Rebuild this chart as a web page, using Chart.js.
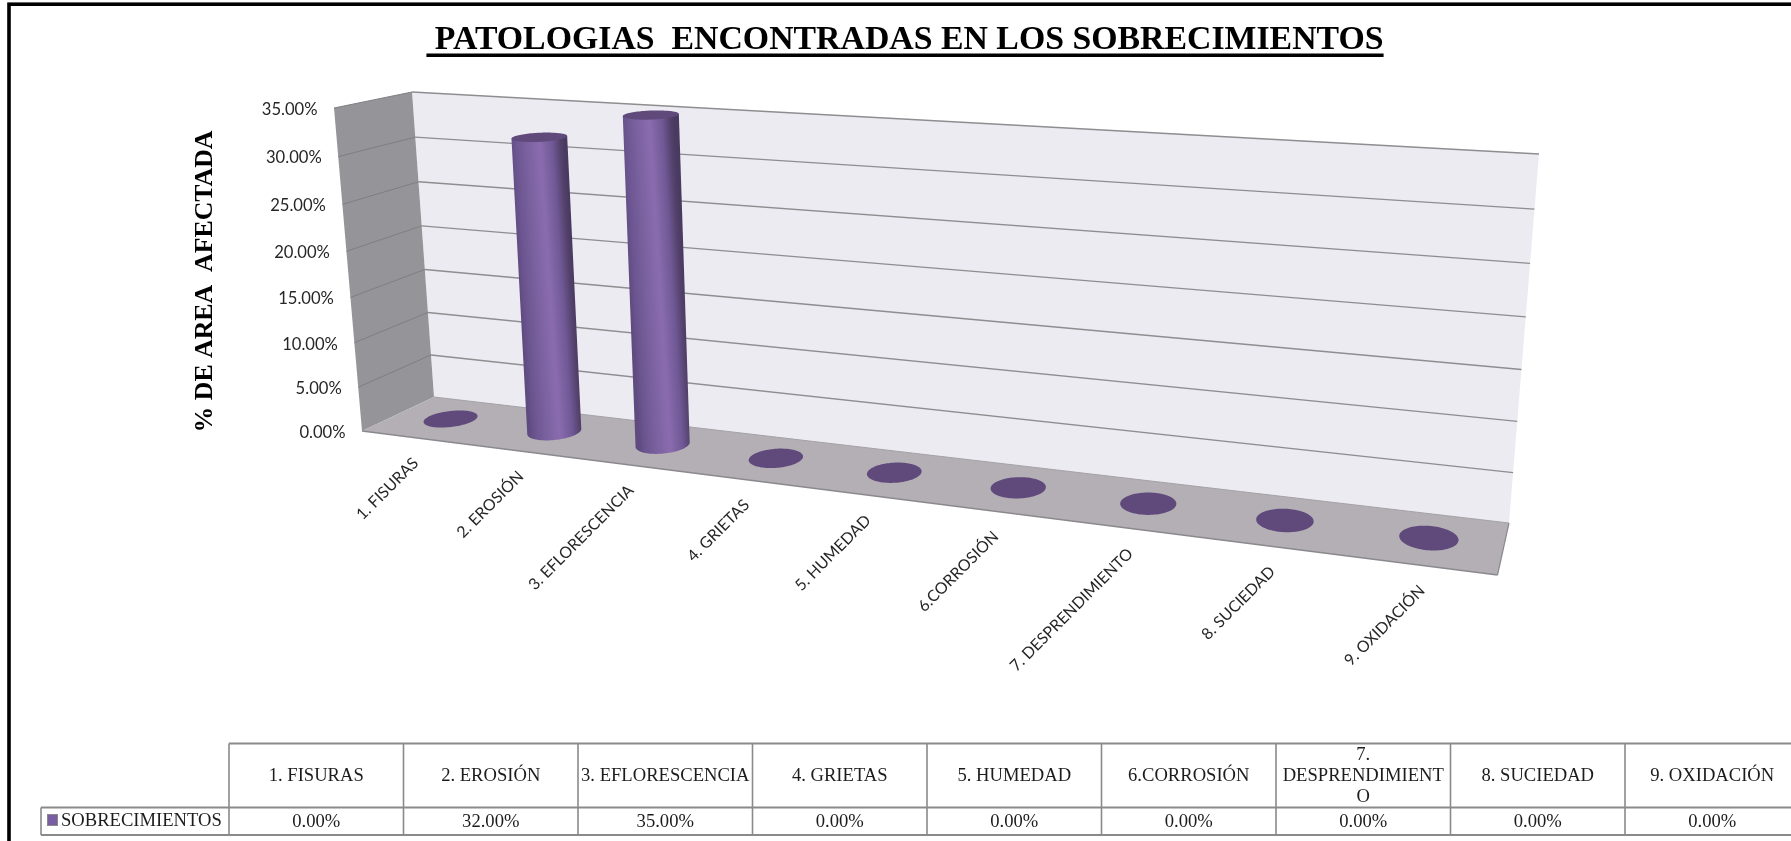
<!DOCTYPE html>
<html><head><meta charset="utf-8">
<style>html,body{margin:0;padding:0;background:#fff;overflow:hidden}canvas{display:block}</style>
<script src="https://cdn.jsdelivr.net/npm/chart.js@4/dist/chart.umd.js"></script>
</head><body><canvas id="c" width="1791" height="841"></canvas>
<script>
const categories = ["1. FISURAS","2. EROSIÓN","3. EFLORESCENCIA","4. GRIETAS","5. HUMEDAD","6.CORROSIÓN","7. DESPRENDIMIENTO","8. SUCIEDAD","9. OXIDACIÓN"];
const seriesName = "SOBRECIMIENTOS";
const seriesValues = [0,32,35,0,0,0,0,0,0];
const chartTitle = " PATOLOGIAS  ENCONTRADAS EN LOS SOBRECIMIENTOS";
const yTitle = "% DE AREA  AFECTADA";
const tableHeaderLines = [["1. FISURAS"],["2. EROSIÓN"],["3. EFLORESCENCIA"],["4. GRIETAS"],["5. HUMEDAD"],["6.CORROSIÓN"],["7.","DESPRENDIMIENT","O"],["8. SUCIEDAD"],["9. OXIDACIÓN"]];
const yMax = 35, yStep = 5;

// Frame of the projected 3D box (unit square -> quadrilateral)
const BL=[434,397],BR=[1509,523],TR=[1539,154],TL=[412,92],FL=[362,431],FR=[1497.5,575],FT=[334,108];
function homography(p0,p1,p2,p3){
  const [x0,y0]=p0,[x1,y1]=p1,[x2,y2]=p2,[x3,y3]=p3;
  const dx1=x1-x2,dx2=x3-x2,sx=x0-x1+x2-x3,dy1=y1-y2,dy2=y3-y2,sy=y0-y1+y2-y3;
  const den=dx1*dy2-dx2*dy1,g=(sx*dy2-dx2*sy)/den,h=(dx1*sy-sx*dy1)/den;
  const a=x1-x0+g*x1,b=x3-x0+h*x3,d=y1-y0+g*y1,e=y3-y0+h*y3;
  return (u,v)=>{const k=g*u+h*v+1;return [(a*u+b*v+x0)/k,(d*u+e*v+y0)/k];};
}
const Hb=homography(BL,BR,TR,TL), Hf=homography(BL,BR,FR,FL), Hl=homography(BL,FL,FT,TL);
const frontScale=(FL[1]-FT[1])/(BL[1]-TL[1]);
function P(u,v,w){const f=Hf(u,w),a=Hb(u,0),b=Hb(u,v),s=1+(frontScale-1)*w;return [f[0]+(b[0]-a[0])*s+3*Math.sin(Math.PI*u),f[1]+(b[1]-a[1])*s];}
function poly(ctx,pts,fill,stroke,lw){ctx.beginPath();pts.forEach((p,i)=>i?ctx.lineTo(p[0],p[1]):ctx.moveTo(p[0],p[1]));ctx.closePath();
  if(fill){ctx.fillStyle=fill;ctx.fill();} if(stroke){ctx.strokeStyle=stroke;ctx.lineWidth=lw||1;ctx.stroke();}}
function line(ctx,a,b,c,lw){ctx.beginPath();ctx.moveTo(a[0],a[1]);ctx.lineTo(b[0],b[1]);ctx.strokeStyle=c;ctx.lineWidth=lw;ctx.stroke();}

const WALL_DEPTH=0.48, R_W=0.235;
function drawCylinder(ctx,u,v,rU0){
  const N=96,bot=[],top=[],rU=rU0*(.885-.06*u);
  for(let i=0;i<N;i++){const t=i/N*2*Math.PI,uu=u+rU*Math.cos(t),ww=WALL_DEPTH+R_W*Math.sin(t);bot.push(P(uu,0,ww));top.push(P(uu,v,ww));}
  if(v>0){
    let iL=0,iR=0;bot.forEach((p,i)=>{if(p[0]<bot[iL][0])iL=i;if(p[0]>bot[iR][0])iR=i;});
    const path=[top[iL]];
    for(let i=iL;;i=(i-1+N)%N){path.push(bot[i]);if(i===iR)break;}
    path.push(top[iR]);
    const mL=[(top[iL][0]+bot[iL][0])/2,(top[iL][1]+bot[iL][1])/2],mR=[(top[iR][0]+bot[iR][0])/2,(top[iR][1]+bot[iR][1])/2];
    const g=ctx.createLinearGradient(mL[0],mL[1],mR[0],mR[1]);
    g.addColorStop(0,'#604b80');g.addColorStop(.1,'#6b5590');g.addColorStop(.35,'#7d63a2');g.addColorStop(.55,'#8a6cae');
    g.addColorStop(.78,'#6f5895');g.addColorStop(.93,'#524069');g.addColorStop(1,'#493a62');
    poly(ctx,path,g);
  }
  poly(ctx,top,'#604a7c');
}

const box3d={id:'box3d',
  beforeDatasetsDraw(chart){
    const ctx=chart.ctx,y=chart.scales.y;
    ctx.save();
    poly(ctx,[TL,TR,BR,BL],'#edebf2');
    poly(ctx,[TL,BL,FL,FT],'#959498');
    poly(ctx,[BL,BR,FR,FL],'#b3afb5');
    y.ticks.forEach(t=>{const v=t.value/yMax;
      const a=Hb(0,v),b=Hb(1,v),c=Hl(1,v);
      if(t.value>0){line(ctx,a,b,'#8e8d90',1.4);line(ctx,a,c,'#7f7e82',1);}
    });
    line(ctx,FL,FR,'#8b898d',1.4);line(ctx,FR,BR,'#8b898d',1.2);line(ctx,BL,BR,'#a3a1a6',1);
    ctx.restore();
  },
  afterDatasetsDraw(chart){
    const ctx=chart.ctx,area=chart.chartArea,y=chart.scales.y,xs=chart.scales.x,meta=chart.getDatasetMeta(0);
    ctx.save();
    meta.data.forEach(el=>{
      const u=(el.x-area.left)/area.width,v=(area.bottom-el.y)/area.height,rU=el.width/area.width/2;
      drawCylinder(ctx,u,v,rU);
    });
    ctx.fillStyle='#262626';
    ctx.font='16.6px Lato';ctx.textAlign='right';ctx.textBaseline='middle';
    y.ticks.forEach(t=>{const p=Hl(1,t.value/yMax);ctx.fillText(t.label,p[0]-16.5,p[1]+1.5);});
    ctx.font='15.9px Lato';
    categories.forEach((c,i)=>{
      const u=(xs.getPixelForTick(i)-area.left)/area.width,p=Hf(u,1);
      ctx.save();ctx.translate(p[0]+3,p[1]+23);ctx.rotate(-Math.PI/4);ctx.fillText(c,0,0);ctx.restore();
    });
    ctx.restore();
  },
  afterDraw(chart){
    const ctx=chart.ctx,tb=chart.titleBlock;
    ctx.save();
    // title underline
    ctx.font=chart.options.plugins.title.font.weight+' '+chart.options.plugins.title.font.size+'px "Liberation Serif"';
    const w=ctx.measureText(chartTitle).width,cx=(tb.left+tb.right)/2;
    ctx.fillStyle='#000';ctx.fillRect(cx-w/2,53.5,w,3.5);
    // y axis title
    ctx.save();ctx.translate(205,281.5);ctx.rotate(-Math.PI/2);ctx.font='bold 25.8px "Liberation Serif"';ctx.textAlign='center';ctx.textBaseline='middle';ctx.fillStyle='#000';ctx.fillText(yTitle,0,0);ctx.restore();
    // data table
    const x0=229,cw=174.5,top=743.5,mid=807.5,bot=835,leg=41,c='#8a8a8a';
    for(let i=0;i<=9;i++){const x=x0+cw*i;line(ctx,[x,top],[x,bot],c,1.6);}
    line(ctx,[x0,top],[1791,top],c,1.8);
    line(ctx,[leg,mid],[1791,mid],c,1.8);
    line(ctx,[leg,bot],[1791,bot],c,1.8);
    line(ctx,[leg,mid],[leg,bot],c,1.6);
    ctx.font='18.6px "Liberation Serif"';ctx.fillStyle='#1c1c1c';ctx.textAlign='center';ctx.textBaseline='middle';
    tableHeaderLines.forEach((ls,i)=>{const xc=x0+cw*(i+.5);ls.forEach((l,j)=>ctx.fillText(l,xc,776+(j-(ls.length-1)/2)*21));});
    seriesValues.forEach((v,i)=>ctx.fillText(v.toFixed(2)+'%',x0+cw*(i+.5),822));
    ctx.textAlign='left';ctx.fillText(seriesName,61,821.5);
    ctx.fillStyle='#7a5ea3';ctx.fillRect(47.5,814.5,10,11);ctx.strokeStyle='#8a8a8a';ctx.lineWidth=1;ctx.strokeRect(47.5,814.5,10,11);
    // outer frame
    ctx.strokeStyle='#000';ctx.lineWidth=3.6;ctx.strokeRect(9,4.2,1800,900);
    ctx.restore();
  }
};

new Chart(document.getElementById('c'),{
  type:'bar',
  plugins:[box3d],
  data:{labels:categories,datasets:[{label:seriesName,data:seriesValues,backgroundColor:'rgba(0,0,0,0)',borderWidth:0,barPercentage:.48,categoryPercentage:1}]},
  options:{
    responsive:false,animation:false,
    layout:{padding:{left:19,right:0,top:0,bottom:0}},
    plugins:{
      legend:{display:false},tooltip:{enabled:false},
      title:{display:true,text:chartTitle,color:'#000',font:{family:'"Liberation Serif"',size:33.8,weight:'bold',lineHeight:1.2},padding:{top:20,bottom:31.4}}
    },
    scales:{
      x:{type:'category',ticks:{display:false},grid:{display:false},border:{display:false},afterFit(s){s.height=841-523;}},
      y:{type:'linear',min:0,max:yMax,position:'left',ticks:{display:false,stepSize:yStep,callback:v=>v.toFixed(2)+'%'},grid:{display:false},border:{display:false},afterFit(s){s.width=434-19;}},
      yr:{type:'linear',position:'right',ticks:{display:false},grid:{display:false},border:{display:false},afterFit(s){s.width=1791-1509;}}
    }
  }
});
</script></body></html>
